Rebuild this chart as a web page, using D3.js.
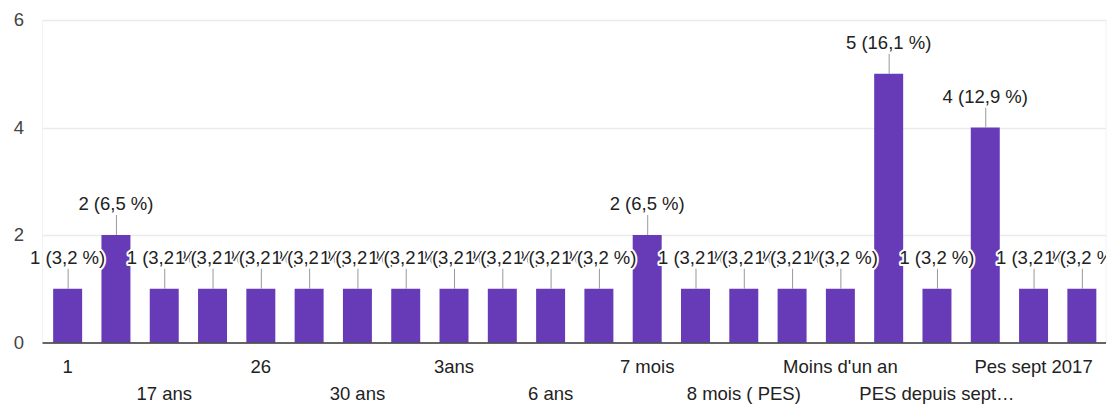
<!DOCTYPE html>
<html>
<head>
<meta charset="utf-8">
<script src="https://cdn.jsdelivr.net/npm/d3@7"></script>
<style>
  html, body { margin: 0; padding: 0; background: #fff; }
  svg { display: block; font-family: "Liberation Sans", Arial, sans-serif; }
</style>
</head>
<body>
<svg id="chart" width="1116" height="405"></svg>
<script>
// Category names (odd positions are not labelled in the reference and cannot be read)
const categories = ["1", "", "17 ans", "", "26", "", "30 ans", "", "3ans", "", "6 ans", "",
                    "7 mois", "", "8 mois ( PES)", "", "Moins d'un an", "", "PES depuis sept…", "", "Pes sept 2017", ""];
// Number of answers per category
const counts = [1, 2, 1, 1, 1, 1, 1, 1, 1, 1, 1, 1, 2, 1, 1, 1, 1, 5, 1, 4, 1, 1];
// Y axis tick values
const yTicks = [0, 2, 4, 6];

const W = 1116, H = 405;
const plot = { left: 43.5, right: 1106, top: 20, bottom: 342.5 };
const fontSize = 18.5;
const total = d3.sum(counts);

const svg = d3.select("#chart");

const x = d3.scaleBand()
  .domain(d3.range(counts.length))
  .range([plot.left, plot.right])
  .paddingInner(0.4)
  .paddingOuter(0.2);

const y = d3.scaleLinear()
  .domain([0, d3.max(yTicks)])
  .range([plot.bottom, plot.top]);

// faint chart-area side borders
svg.append("g").selectAll("line").data([plot.left - 1, plot.right])
  .join("line")
  .attr("x1", d => d).attr("x2", d => d)
  .attr("y1", plot.top).attr("y2", plot.bottom)
  .attr("stroke", "#f2f2f2").attr("stroke-width", 1);

// gridlines
svg.append("g").selectAll("line").data(yTicks.filter(t => t !== 0))
  .join("line")
  .attr("x1", plot.left - 1).attr("x2", plot.right)
  .attr("y1", d => Math.round(y(d)) + 0.5).attr("y2", d => Math.round(y(d)) + 0.5)
  .attr("stroke", "#ebebeb").attr("stroke-width", 1.5);

// y axis labels
const yAxis = d3.axisLeft(y).tickValues(yTicks).tickSize(0).tickPadding(0).tickFormat(d3.format("d"));
const gy = svg.append("g").attr("transform", "translate(24,0)").call(yAxis);
gy.select(".domain").remove();
gy.selectAll("text")
  .attr("font-size", fontSize)
  .attr("font-family", "'Liberation Sans', Arial, sans-serif")
  .attr("fill", "#444")
  .attr("x", 0);

// bars
svg.append("g").selectAll("rect").data(counts)
  .join("rect")
  .attr("x", (d, i) => x(i))
  .attr("width", x.bandwidth())
  .attr("y", d => y(d))
  .attr("height", d => y(0) - y(d))
  .attr("fill", "#673ab7");

// baseline
svg.append("line")
  .attr("x1", plot.left - 1).attr("x2", plot.right)
  .attr("y1", y(0) + 0.5).attr("y2", y(0) + 0.5)
  .attr("stroke", "#333").attr("stroke-width", 1.5);

// x axis labels (staggered, every other category shown)
const xAxis = d3.axisBottom(x).tickSize(0).tickPadding(0)
  .tickFormat(i => i % 2 === 0 ? categories[i] : "");
const gx = svg.append("g").attr("transform", `translate(0,${y(0)})`).call(xAxis);
gx.select(".domain").remove();
gx.selectAll("text")
  .attr("font-size", fontSize)
  .attr("font-family", "'Liberation Sans', Arial, sans-serif")
  .attr("fill", "#222")
  .attr("dy", null)
  .attr("y", i => ((i / 2) % 2 === 0) ? 30.5 : 57.5);

// annotations
const clip = svg.append("clipPath").attr("id", "annClip");
clip.append("rect").attr("x", 0).attr("y", 0).attr("width", plot.right).attr("height", H);

const ann = svg.append("g").attr("clip-path", "url(#annClip)");
const fmtPct = v => (v / total * 100).toFixed(1).replace(".", ",");

ann.selectAll("line").data(counts)
  .join("line")
  .attr("x1", (d, i) => x(i) + x.bandwidth() / 2 + 0.5)
  .attr("x2", (d, i) => x(i) + x.bandwidth() / 2 + 0.5)
  .attr("y1", d => y(d) - 20)
  .attr("y2", d => y(d))
  .attr("stroke", "#999").attr("stroke-width", 1);

counts.forEach((d, i) => {
  ann.append("text")
    .attr("x", x(i) + x.bandwidth() / 2)
    .attr("y", y(d) - 25)
    .attr("text-anchor", "middle")
    .attr("font-size", fontSize)
    .attr("font-family", "'Liberation Sans', Arial, sans-serif")
    .attr("fill", "#222")
    .attr("stroke", "#fff")
    .attr("stroke-width", 4)
    .attr("stroke-linejoin", "round")
    .attr("paint-order", "stroke")
    .text(`${d} (${fmtPct(d)} %)`);
});
</script>
</body>
</html>
